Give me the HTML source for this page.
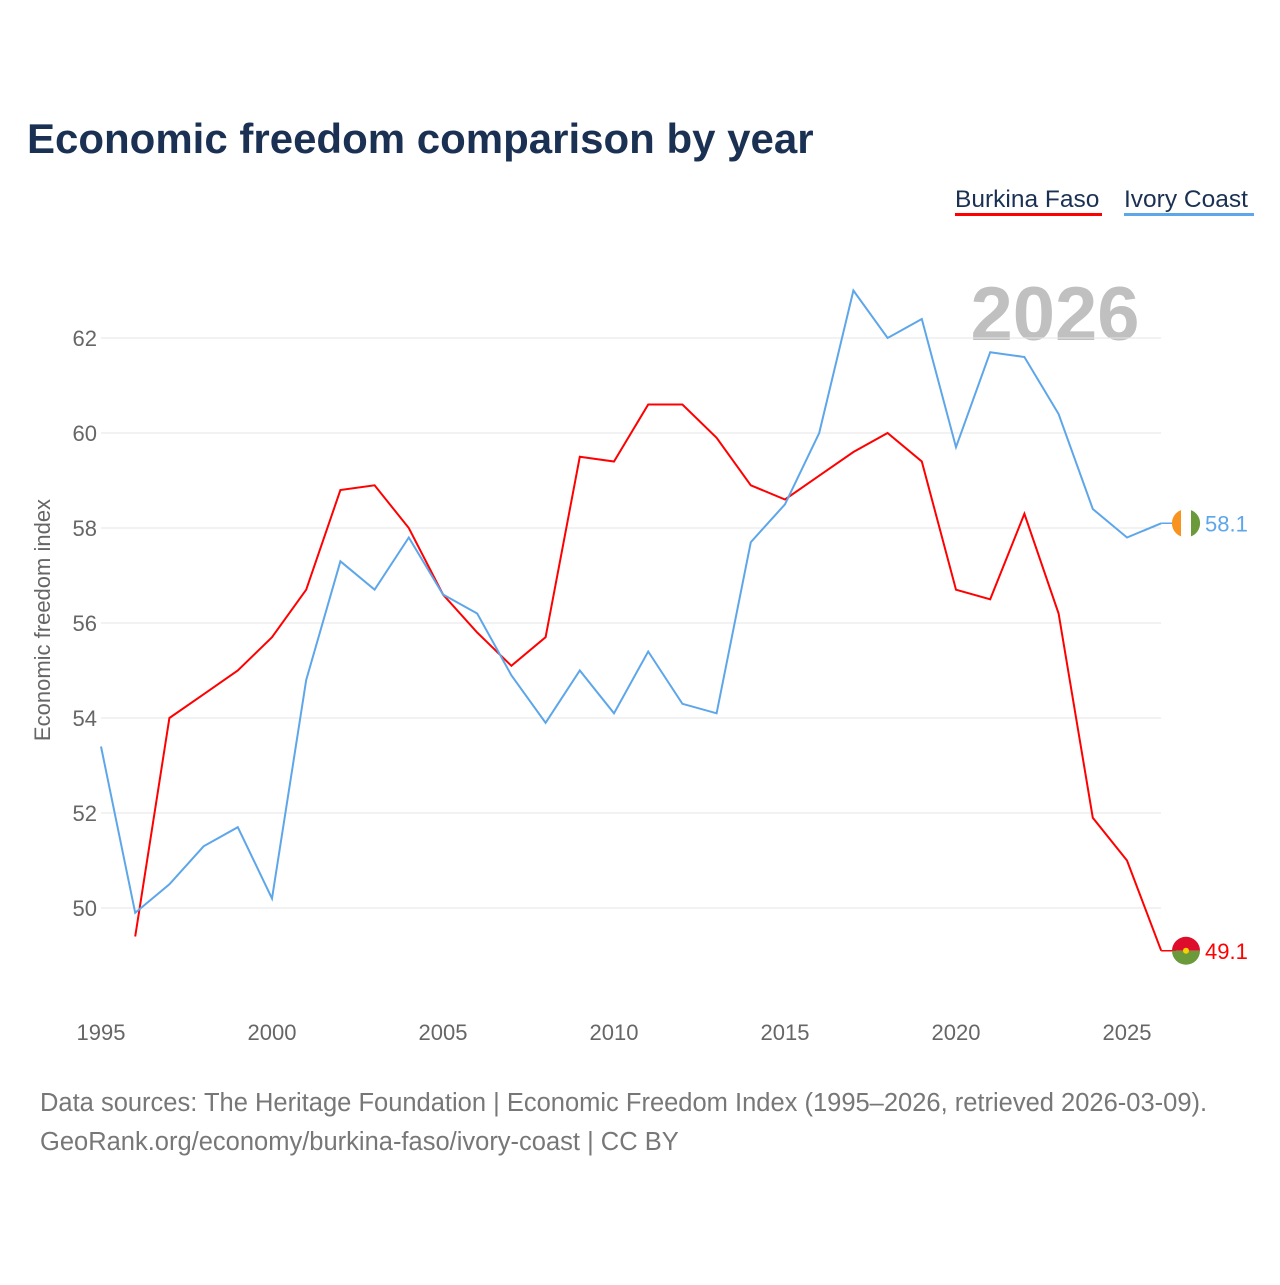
<!DOCTYPE html>
<html><head><meta charset="utf-8"><style>
body{margin:0;background:#fff;font-family:"Liberation Sans",sans-serif}
svg text{font-family:"Liberation Sans",sans-serif}
</style></head><body>
<svg width="1280" height="1280" viewBox="0 0 1280 1280" xmlns="http://www.w3.org/2000/svg">
<text x="27" y="153" font-size="42" font-weight="bold" fill="#1b3153">Economic freedom comparison by year</text>
<g>
<text x="955" y="207" font-size="24.5" fill="#1b3153">Burkina Faso</text>
<rect x="955" y="213" width="147" height="3" fill="#f00"/>
<text x="1124" y="207" font-size="24.5" fill="#1b3153">Ivory Coast</text>
<rect x="1124" y="213" width="130" height="3" fill="#5ea6ea"/>
</g>
<text x="1055" y="340" font-size="76" font-weight="bold" fill="#c0c0c0" text-anchor="middle">2026</text>
<g id="grid"></g><g id="xt"></g>
<text transform="translate(50,620) rotate(-90)" font-size="22" fill="#666" text-anchor="middle">Economic freedom index</text>
<g id="lines"></g>
<text x="40" y="1111" font-size="25.5" fill="#777">Data sources: The Heritage Foundation | Economic Freedom Index (1995–2026, retrieved 2026-03-09).</text>
<text x="40" y="1150" font-size="25.5" fill="#777">GeoRank.org/economy/burkina-faso/ivory-coast | CC BY</text>
</svg>
<script>
const years=[1995,1996,1997,1998,1999,2000,2001,2002,2003,2004,2005,2006,2007,2008,2009,2010,2011,2012,2013,2014,2015,2016,2017,2018,2019,2020,2021,2022,2023,2024,2025,2026];
const burkina=[null,49.4,54.0,54.5,55.0,55.7,56.7,58.8,58.9,58.0,56.6,55.8,55.1,55.7,59.5,59.4,60.6,60.6,59.9,58.9,58.6,59.1,59.6,60.0,59.4,56.7,56.5,58.3,56.2,51.9,51.0,49.1];
const ivory=[53.4,49.9,50.5,51.3,51.7,50.2,54.8,57.3,56.7,57.8,56.6,56.2,54.9,53.9,55.0,54.1,55.4,54.3,54.1,57.7,58.5,60.0,63.0,62.0,62.4,59.7,61.7,61.6,60.4,58.4,57.8,58.1];
const yTicks=[50,52,54,56,58,60,62];
const xTicks=[1995,2000,2005,2010,2015,2020,2025];
const NS='http://www.w3.org/2000/svg';
const X=y=>101+(y-1995)*34.2, Y=v=>908-(v-50)*47.5;
function mk(t,a,p){const e=document.createElementNS(NS,t);for(const k in a)e.setAttribute(k,a[k]);p.appendChild(e);return e;}
const g=document.getElementById('grid');
yTicks.forEach(v=>{
 const l=mk('line',{x1:101,x2:1161,y1:Y(v),y2:Y(v),stroke:'#e6e6e6','stroke-width':1},g);
 
 
 const t=mk('text',{x:97,y:Y(v)+8,'font-size':22,fill:'#666','text-anchor':'end'},g);t.textContent=v;
 
 
});
const xt=document.getElementById('xt');
xTicks.forEach(v=>{
 const t=mk('text',{x:X(v),y:1040,'font-size':22,fill:'#666','text-anchor':'middle'},xt);t.textContent=v;
 
 
});
const L=document.getElementById('lines');
function series(vals,color,name){
 let d='';vals.forEach((v,i)=>{if(v==null)return;d+=(d?'L':'M')+X(years[i]).toFixed(1)+','+Y(v).toFixed(1);});
 const p=mk('path',{d:d,fill:'none',stroke:color,'stroke-width':2},L);
 
 
 const last=vals[vals.length-1],ly=Y(last);
 mk('line',{x1:X(2026),x2:1176,y1:ly,y2:ly,stroke:color,'stroke-width':1.5},L);
 const t=mk('text',{x:1205,y:ly+8,'font-size':22,fill:color},L);t.textContent=last.toFixed(1);
 
 
 return ly;
}
const by=series(burkina,'#f00','burkina-faso');
const iy=series(ivory,'#5ea6ea','ivory-coast');
const fb=mk('g',{},L);


mk('path',{d:`M1172,${by} a14,14 0 0 1 28,0 z`,fill:'#de0d2b'},fb);
mk('path',{d:`M1172,${by} a14,14 0 0 0 28,0 z`,fill:'#6a9a3a'},fb);
mk('circle',{cx:1186,cy:by,r:3,fill:'#f6d300'},fb);
const fi=mk('g',{},L);


mk('circle',{cx:1186,cy:iy,r:14,fill:'#fff'},fi);
mk('path',{d:`M1181,${iy-13.1} A14,14 0 0 0 1181,${iy+13.1} z`,fill:'#f7931e'},fi);
mk('path',{d:`M1191,${iy-13.1} A14,14 0 0 1 1191,${iy+13.1} z`,fill:'#6a9a3a'},fi);
</script>
</body></html>
